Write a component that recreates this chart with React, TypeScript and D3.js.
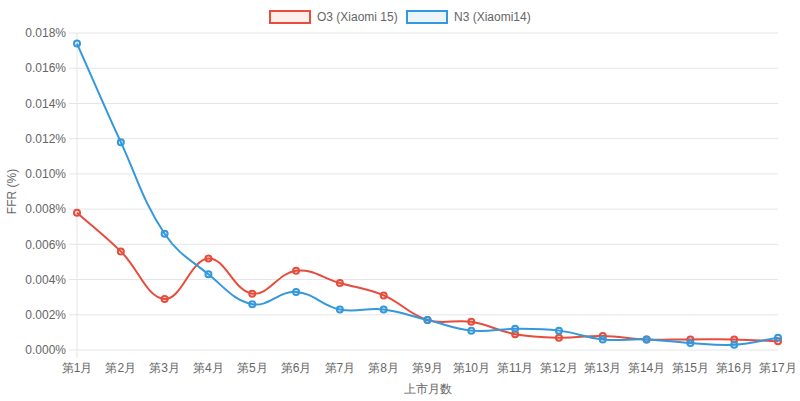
import React from 'react';
import * as d3 from 'd3';

const months = ['第1月', '第2月', '第3月', '第4月', '第5月', '第6月', '第7月', '第8月', '第9月', '第10月', '第11月', '第12月', '第13月', '第14月', '第15月', '第16月', '第17月'];
const o3Values = [0.0078, 0.0056, 0.0029, 0.0052, 0.0032, 0.0045, 0.0038, 0.0031, 0.0017, 0.0016, 0.0009, 0.0007, 0.0008, 0.0006, 0.0006, 0.0006, 0.0005];
const n3Values = [0.0174, 0.0118, 0.0066, 0.0043, 0.0026, 0.0033, 0.0023, 0.0023, 0.0017, 0.0011, 0.0012, 0.0011, 0.0006, 0.0006, 0.0004, 0.0003, 0.0007];
const yTicks = [0, 0.002, 0.004, 0.006, 0.008, 0.010, 0.012, 0.014, 0.016, 0.018];

const series = [
  { name: 'O3 (Xiaomi 15)', values: o3Values, color: '#e74c3c', fill: 'rgba(231,76,60,0.1)' },
  { name: 'N3 (Xiaomi14)', values: n3Values, color: '#3498db', fill: 'rgba(52,152,219,0.1)' },
];

const W = 800, H = 401;
const m = { top: 33, right: 22, bottom: 51, left: 77 };
const font = '"Liberation Sans", Arial, Helvetica, sans-serif';

// chart.js style spline (tension 0.4) through the points
function splinePath(pts: [number, number][], top: number, bottom: number, left: number, right: number) {
  const t = 0.4;
  const cps = pts.map((p, i) => {
    const prev = pts[i - 1] || p;
    const next = pts[i + 1] || p;
    const d01 = Math.hypot(p[0] - prev[0], p[1] - prev[1]);
    const d12 = Math.hypot(next[0] - p[0], next[1] - p[1]);
    let s01 = d01 / (d01 + d12 || 1);
    let s12 = d12 / (d01 + d12 || 1);
    s01 = isNaN(s01) ? 0 : s01;
    s12 = isNaN(s12) ? 0 : s12;
    const fa = t * s01, fb = t * s12;
    const clampX = (v: number) => Math.max(left, Math.min(right, v));
    const clampY = (v: number) => Math.max(top, Math.min(bottom, v));
    return {
      prev: [clampX(p[0] - fa * (next[0] - prev[0])), clampY(p[1] - fa * (next[1] - prev[1]))],
      next: [clampX(p[0] + fb * (next[0] - prev[0])), clampY(p[1] + fb * (next[1] - prev[1]))],
    };
  });
  let d = `M${pts[0][0]},${pts[0][1]}`;
  for (let i = 1; i < pts.length; i++) {
    const a = cps[i - 1].next, b = cps[i].prev;
    d += `C${a[0]},${a[1]},${b[0]},${b[1]},${pts[i][0]},${pts[i][1]}`;
  }
  return d;
}

const App: React.FC = () => {
  const x = d3.scalePoint<string>().domain(months).range([m.left, W - m.right]);
  const y = d3.scaleLinear().domain([0, 0.018]).range([H - m.bottom, m.top]);

  return (
    <svg width={W} height={H} style={{ position: 'absolute', left: 0, top: 0, background: '#fff' }} fontFamily={font}>
      {/* legend */}
      {series.map((s, i) => {
        const lx = i === 0 ? 270 : 407;
        return (
          <g key={s.name}>
            <rect x={lx} y={11} width={40} height={12} fill={s.fill} stroke={s.color} strokeWidth={2} />
            <text x={lx + 47} y={21} fontSize={12} fill="#666">{s.name}</text>
          </g>
        );
      })}

      {/* y grid + ticks */}
      {yTicks.map(v => (
        <g key={v}>
          <line x1={m.left - 8} x2={W - m.right} y1={y(v)} y2={y(v)} stroke="#e5e5e5" strokeWidth={1} />
          <text x={m.left - 11} y={y(v)} dy="0.35em" textAnchor="end" fontSize={12} fill="#666">
            {d3.format('.3f')(v * 100 / 100)}%
          </text>
        </g>
      ))}
      <line x1={m.left} x2={m.left} y1={m.top} y2={H - m.bottom + 8} stroke="#e5e5e5" strokeWidth={1} />

      {/* x labels */}
      {months.map(mo => (
        <text key={mo} x={x(mo)} y={H - m.bottom + 22} textAnchor="middle" fontSize={12} fill="#666">{mo}</text>
      ))}

      <text x={(m.left + W - m.right) / 2} y={H - 8} textAnchor="middle" fontSize={12} fill="#666">上市月数</text>
      <text transform={`translate(16,${(m.top + H - m.bottom) / 2}) rotate(-90)`} textAnchor="middle" fontSize={12} fill="#666">FFR (%)</text>

      {/* lines */}
      {series.map(s => {
        const pts = s.values.map((v, i) => [x(months[i])!, y(v)] as [number, number]);
        return (
          <g key={s.name}>
            <path d={splinePath(pts, m.top, H - m.bottom, m.left, W - m.right)} fill="none" stroke={s.color} strokeWidth={2} />
            {pts.map((p, i) => (
              <circle key={i} cx={p[0]} cy={p[1]} r={3} fill={s.fill} stroke={s.color} strokeWidth={2} />
            ))}
          </g>
        );
      })}
    </svg>
  );
};

export default App;
